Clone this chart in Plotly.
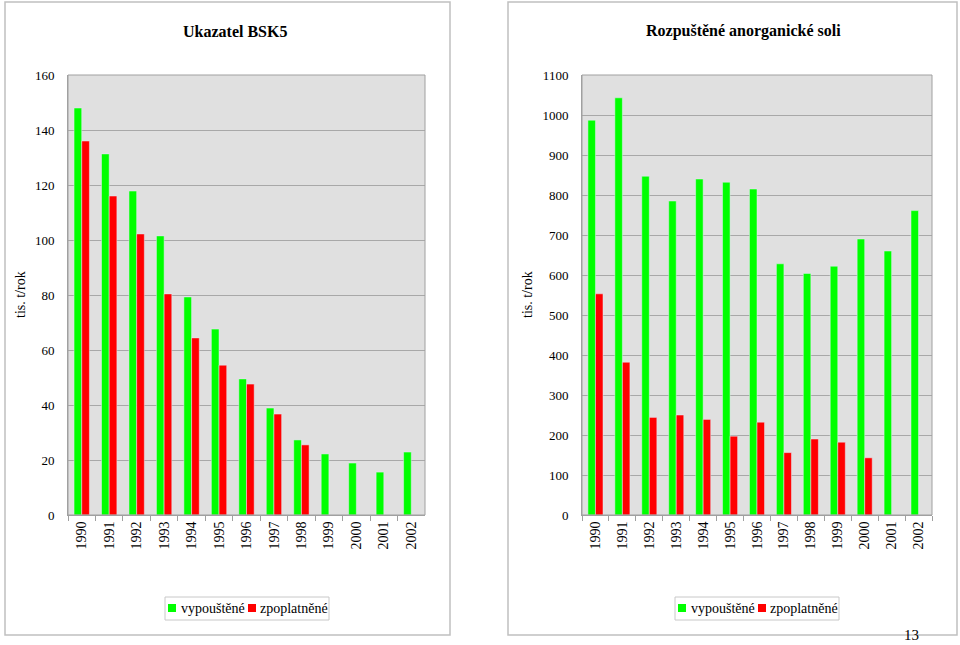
import plotly.graph_objects as go

years = ["1990", "1991", "1992", "1993", "1994", "1995", "1996", "1997", "1998", "1999", "2000", "2001", "2002"]

bsk5_vypoustene = [148.0, 131.3, 117.8, 101.5, 79.3, 67.6, 49.5, 38.9, 27.3, 22.2, 18.9, 15.6, 22.9]
bsk5_zpoplatnene = [136.0, 116.0, 102.2, 80.4, 64.4, 54.5, 47.6, 36.7, 25.5, None, None, None, None]

rals_vypoustene = [987, 1043, 847, 785, 840, 832, 815, 628, 604, 622, 690, 660, 761]
rals_zpoplatnene = [553, 382, 244, 250, 239, 197, 232, 156, 190, 182, 143, None, None]

left_ticks = [0, 20, 40, 60, 80, 100, 120, 140, 160]
right_ticks = [0, 100, 200, 300, 400, 500, 600, 700, 800, 900, 1000, 1100]

series_names = ["vypouštěné", "zpoplatněné"]
titles = ["Ukazatel BSK5", "Rozpuštěné anorganické soli"]
unit = "tis. t/rok"
page_number = "13"

GREEN = "#00ff00"
RED = "#ff0000"
FONT = "Liberation Serif"
W, H = 960, 645


def px(x):
    return x / W


def py(y):
    return (H - y) / H


fig = go.Figure()
fig.add_trace(go.Bar(x=years, y=bsk5_vypoustene, name=series_names[0], marker_color=GREEN,
                     xaxis="x", yaxis="y"))
fig.add_trace(go.Bar(x=years, y=bsk5_zpoplatnene, name=series_names[1], marker_color=RED,
                     xaxis="x", yaxis="y"))
fig.add_trace(go.Bar(x=years, y=rals_vypoustene, name=series_names[0], marker_color=GREEN,
                     xaxis="x2", yaxis="y2"))
fig.add_trace(go.Bar(x=years, y=rals_zpoplatnene, name=series_names[1], marker_color=RED,
                     xaxis="x2", yaxis="y2"))

ydom = [py(515), py(75)]
xcommon = dict(type="category", tickangle=-90, ticks="outside", tickson="boundaries",
               ticklen=5, tickcolor="#a0a0a0", showline=True, linecolor="#a0a0a0",
               tickfont=dict(family=FONT, size=14, color="black"), showgrid=False)
ycommon = dict(showline=True, linecolor="#a0a0a0", gridcolor="#a8a8a8", gridwidth=1,
               tickfont=dict(family=FONT, size=13, color="black"), ticks="",
               ticklabelstandoff=10, zeroline=False)

shapes = [
    dict(type="rect", xref="paper", yref="paper", x0=px(5), x1=px(450),
         y0=py(635), y1=py(2), line=dict(color="#c0c0c0", width=1.5)),
    dict(type="rect", xref="paper", yref="paper", x0=px(508), x1=px(957),
         y0=py(635), y1=py(2), line=dict(color="#c0c0c0", width=1.5)),
    dict(type="rect", xref="paper", yref="paper", x0=px(68), x1=px(425),
         y0=ydom[0], y1=ydom[1], line=dict(color="#a0a0a0", width=1)),
    dict(type="rect", xref="paper", yref="paper", x0=px(582), x1=px(932),
         y0=ydom[0], y1=ydom[1], line=dict(color="#a0a0a0", width=1)),
]

annotations = [
    dict(text="<b>" + titles[0] + "</b>", x=px(235), y=py(31), xanchor="center", yanchor="middle",
         font=dict(family=FONT, size=16, color="black")),
    dict(text="<b>" + titles[1] + "</b>", x=px(743), y=py(31), xanchor="center", yanchor="middle",
         font=dict(family=FONT, size=16, color="black")),
    dict(text=unit, x=px(20), y=py(295), xanchor="center", yanchor="middle", textangle=-90,
         font=dict(family=FONT, size=14, color="black")),
    dict(text=unit, x=px(527), y=py(295), xanchor="center", yanchor="middle", textangle=-90,
         font=dict(family=FONT, size=14, color="black")),
    dict(text=page_number, x=px(911), y=py(645), xanchor="center", yanchor="bottom",
         font=dict(family=FONT, size=15, color="black")),
]

# hand-drawn legends (one per panel)
for bx in (165, 675):
    shapes.append(dict(type="rect", xref="paper", yref="paper", x0=px(bx), x1=px(bx + 164),
                       y0=py(620), y1=py(597), line=dict(color="#c8c8c8", width=1),
                       fillcolor="white"))
    shapes.append(dict(type="rect", xref="paper", yref="paper", x0=px(bx + 3), x1=px(bx + 11),
                       y0=py(612), y1=py(604), line=dict(width=0), fillcolor=GREEN))
    shapes.append(dict(type="rect", xref="paper", yref="paper", x0=px(bx + 83), x1=px(bx + 91),
                       y0=py(612), y1=py(604), line=dict(width=0), fillcolor=RED))
    annotations.append(dict(text=series_names[0], x=px(bx + 14), y=py(608), xanchor="left",
                            yanchor="middle", font=dict(family=FONT, size=14, color="black")))
    annotations.append(dict(text=series_names[1], x=px(bx + 93), y=py(608), xanchor="left",
                            yanchor="middle", font=dict(family=FONT, size=14, color="black")))

for a in annotations:
    a.update(xref="paper", yref="paper", showarrow=False)

fig.update_layout(
    width=W, height=H,
    margin=dict(l=0, r=0, t=0, b=0, autoexpand=False),
    paper_bgcolor="white",
    plot_bgcolor="#e0e0e0",
    showlegend=False,
    barmode="group", bargap=0.44, bargroupgap=0,
    xaxis=dict(domain=[px(68), px(425)], anchor="y", **xcommon),
    yaxis=dict(domain=ydom, anchor="x", range=[0, 160], tickvals=left_ticks, **ycommon),
    xaxis2=dict(domain=[px(582), px(932)], anchor="y2", **xcommon),
    yaxis2=dict(domain=ydom, anchor="x2", range=[0, 1100], tickvals=right_ticks, **ycommon),
    shapes=shapes,
    annotations=annotations,
)

fig.write_html("out.html", config={"displayModeBar": False},
               post_script="document.body.style.margin='0';document.body.style.overflow='hidden';")
